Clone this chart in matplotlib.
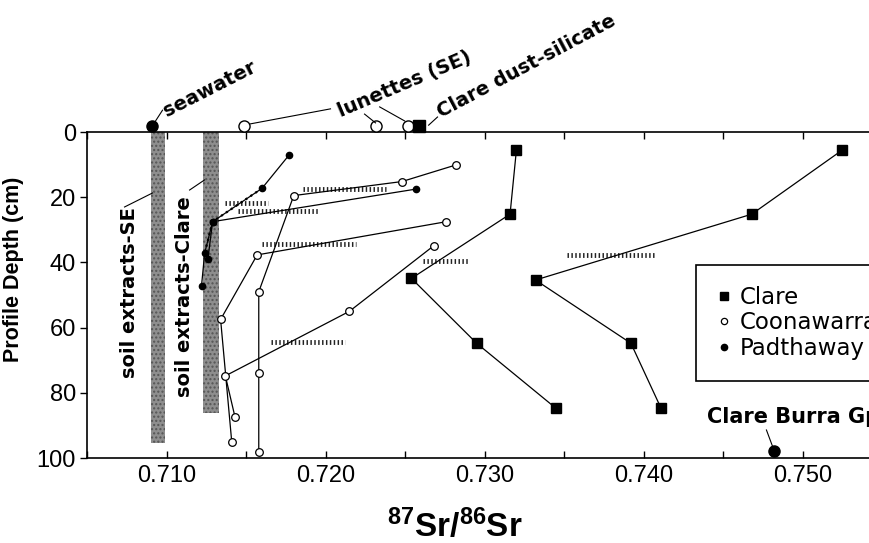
import matplotlib
matplotlib.use("Agg")
import matplotlib.pyplot as plt
from matplotlib.lines import Line2D

plt.rcParams["font.family"] = ["Liberation Sans", "DejaVu Sans"]
plt.rcParams["mathtext.default"] = "regular"

# Clare profiles (filled squares)
clare_a_ratio = [0.7320, 0.7316, 0.7254, 0.7295, 0.7345]
clare_a_depth = [5.5, 25.2, 44.9, 64.8, 84.8]
clare_b_ratio = [0.7525, 0.7468, 0.7332, 0.7392, 0.7411]
clare_b_depth = [5.5, 25.2, 45.4, 64.8, 84.8]

# Coonawarra profiles (open circles)
coon_a_ratio = [0.7282, 0.7248, 0.7180, 0.7158, 0.7158, 0.7158]
coon_a_depth = [10.1, 15.2, 19.5, 49.0, 73.8, 98.3]
coon_b_ratio = [0.7276, 0.7157, 0.7134, 0.7141]
coon_b_depth = [27.5, 37.7, 57.5, 95.0]
coon_c_ratio = [0.7268, 0.7215, 0.7137, 0.7143]
coon_c_depth = [34.9, 55.0, 74.8, 87.3]

# Padthaway profiles (small filled circles)
padt_a_ratio = [0.7177, 0.7160, 0.7129, 0.7126]
padt_a_depth = [7.1, 17.3, 27.5, 39.0]
padt_b_ratio = [0.7257, 0.7129, 0.7124, 0.7122]
padt_b_depth = [17.5, 27.5, 37.1, 47.2]

# dotted ranges
range_depth = [17.5, 21.8, 24.1, 34.4, 37.7, 39.5, 64.3]
range_lo = [0.7186, 0.7137, 0.7145, 0.7160, 0.7352, 0.7261, 0.7166]
range_hi = [0.7238, 0.7164, 0.7195, 0.7219, 0.7407, 0.7290, 0.7212]

# soil extract bands (SE, Clare)
band_lo = [0.7090, 0.7123]
band_hi = [0.7099, 0.7133]
band_depth = [95.5, 86.3]

# end members
seawater = 0.7091
lunettes = [0.7149, 0.7232, 0.7252]
dust = 0.7259
burra_ratio = 0.7482
burra_depth = 97.9

xticks = [0.710, 0.720, 0.730, 0.740, 0.750]
xminor = [0.705, 0.715, 0.725, 0.735, 0.745, 0.755]
yticks = [0, 20, 40, 60, 80, 100]

fig = plt.figure(figsize=(8.7, 5.43), dpi=100)
ax = fig.add_axes([0.1, 0.1565, 0.9506, 0.6004])

lw = 0.9
for lo, hi, d in zip(band_lo, band_hi, band_depth):
    ax.fill_betweenx([0, d], lo, hi, facecolor="#8e8e8e", edgecolor="#555555",
                     hatch="....", linewidth=0, zorder=1)

ax.hlines(range_depth, range_lo, range_hi, colors="#222222", linewidth=3.5,
          linestyles=(0, (0.3, 0.5)), zorder=2)

for xs, ds in [(clare_a_ratio, clare_a_depth), (clare_b_ratio, clare_b_depth)]:
    ax.plot(xs, ds, "-s", color="black", lw=lw, ms=7, zorder=4)

for xs, ds in [(coon_a_ratio, coon_a_depth), (coon_b_ratio, coon_b_depth),
               (coon_c_ratio, coon_c_depth)]:
    ax.plot(xs, ds, "-o", color="black", lw=lw, ms=5.5, mfc="white", mew=0.9, zorder=4)

for xs, ds in [(padt_a_ratio, padt_a_depth), (padt_b_ratio, padt_b_depth)]:
    ax.plot(xs, ds, "-", color="black", lw=lw, zorder=3)
    ax.plot(xs[1:3], ds[1:3], ":", color="black", lw=1.6, zorder=3)
    ax.plot(xs, ds, "o", color="black", ms=4.5, zorder=5)

# surface end members, drawn sitting on the top axis
ax.plot([seawater], [-1.8], "o", color="black", ms=8, clip_on=False, zorder=6)
ax.plot(lunettes, [-1.8] * 3, "o", color="black", mfc="white", ms=8, mew=1,
        clip_on=False, zorder=6)
ax.plot([dust], [-1.8], "s", color="black", ms=8, clip_on=False, zorder=7)
ax.plot([burra_ratio], [burra_depth], "o", color="black", ms=8, clip_on=False, zorder=6)

ann = dict(fontsize=14, fontweight="bold", family="DejaVu Sans", clip_on=False,
           rotation_mode="anchor", ha="left", va="baseline")
ax.text(0.7100, -4.6, "seawater", rotation=27, **ann)
ax.text(0.72094, -4.6, "lunettes (SE)", rotation=23, **ann)
ax.text(0.72723, -4.3, "Clare dust-silicate", rotation=28, **ann)
ax.text(0.7440, 89.3, "Clare Burra Gp", fontsize=15, fontweight="bold",
        family="DejaVu Sans", ha="left", va="baseline")
ax.text(0.70767, 49.4, "soil extracts-SE", rotation=90, fontsize=14,
        fontweight="bold", family="DejaVu Sans", ha="center", va="center")
ax.text(0.71113, 50.6, "soil extracts-Clare", rotation=90, fontsize=14,
        fontweight="bold", family="DejaVu Sans", ha="center", va="center")

leaders = [
    ([0.70906, 0.70975], [-1.5, -6.7]),
    ([0.71528, 0.72031], [-2.5, -7.1]),
    ([0.72245, 0.72314], [-5.5, -2.8]),
    ([0.72340, 0.72497], [-7.7, -3.4]),
    ([0.72648, 0.72704], [-2.1, -4.6]),
    ([0.70736, 0.70912], [23.0, 18.7]),
    ([0.71145, 0.71239], [17.8, 14.7]),
    ([0.74772, 0.74811], [91.4, 96.5]),
]
for xs, ds in leaders:
    ax.plot(xs, ds, "-", color="black", lw=0.8, clip_on=False, zorder=6)

ax.set_xlim(0.705, 0.757)
ax.set_ylim(100, 0)
ax.set_xticks(xticks)
ax.set_xticklabels(["%.3f" % v for v in xticks])
ax.set_xticks(xminor, minor=True)
ax.set_yticks(yticks)
ax.tick_params(axis="x", which="both", direction="in", top=True, length=5,
               width=1, labelsize=17, pad=5)
ax.tick_params(axis="y", direction="out", length=5, width=1, labelsize=17, pad=3)
for s in ax.spines.values():
    s.set_linewidth(1.2)

ax.set_ylabel("Profile Depth (cm)", fontsize=15.5, fontweight="bold")
ax.yaxis.set_label_coords(-0.076, 0.58)

fig.text(455 / 870, 6 / 543, "$^{87}$Sr/$^{86}$Sr", fontsize=24, fontweight="bold",
         ha="center", va="baseline")

handles = [
    Line2D([], [], ls="none", marker="s", color="black", ms=6),
    Line2D([], [], ls="none", marker="o", color="black", mfc="white", ms=4.5, mew=0.9),
    Line2D([], [], ls="none", marker="o", color="black", ms=4.5),
]
leg = ax.legend(handles, ["Clare", "Coonawarra", "Padthaway"], loc="upper left",
                bbox_to_anchor=(0.7364, 0.592), borderaxespad=0, fancybox=False,
                edgecolor="black", framealpha=1, handlelength=0.6,
                handletextpad=0.4, labelspacing=0.12, borderpad=0.9,
                prop={"family": "DejaVu Sans", "size": 16.5})
leg.get_frame().set_linewidth(1.2)

fig.savefig("out.png", dpi=100)
